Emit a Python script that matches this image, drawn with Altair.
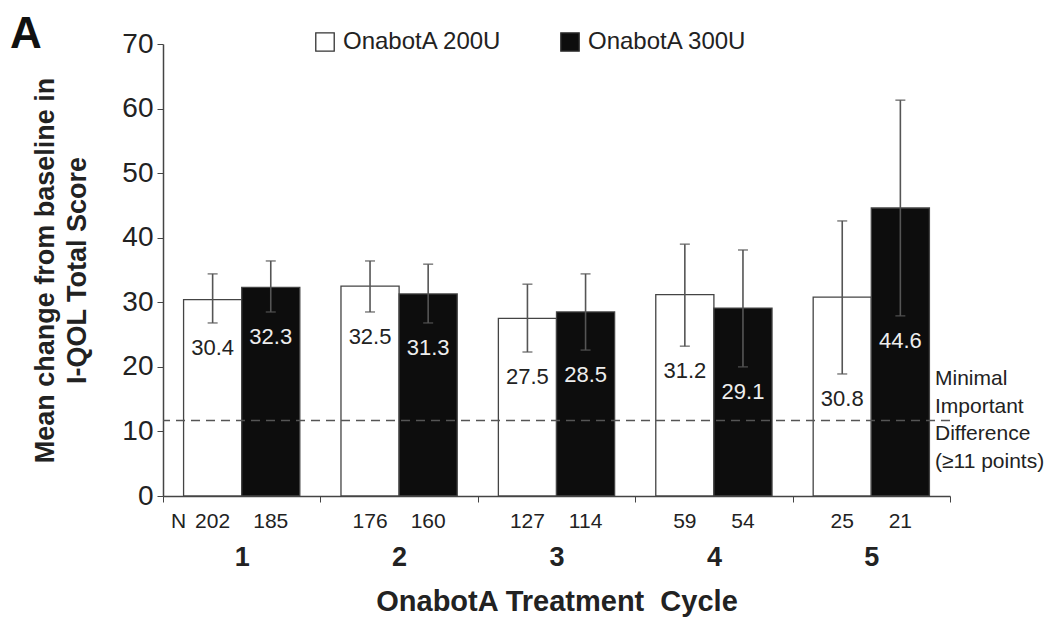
import altair as alt
import pandas as pd

# Mean change from baseline in I-QOL total score by treatment cycle
cycles = ["1", "2", "3", "4", "5"]
doses = ["OnabotA 200U", "OnabotA 300U"]
mean_200 = [30.4, 32.5, 27.5, 31.2, 30.8]
mean_300 = [32.3, 31.3, 28.5, 29.1, 44.6]
low_200 = [26.8, 28.5, 22.3, 23.2, 18.9]
high_200 = [34.4, 36.4, 32.8, 39.0, 42.6]
low_300 = [28.5, 26.8, 22.6, 20.0, 27.9]
high_300 = [36.4, 35.9, 34.4, 38.1, 61.3]
n_200 = [202, 176, 127, 59, 25]
n_300 = [185, 160, 114, 54, 21]
mid_value = 11.7  # minimal important difference reference line

rows = []
for i, c in enumerate(cycles):
    rows.append(dict(cycle=c, dose=doses[0], mean=mean_200[i], lo=low_200[i],
                     hi=high_200[i], n=n_200[i], label=f"{mean_200[i]:.1f}"))
    rows.append(dict(cycle=c, dose=doses[1], mean=mean_300[i], lo=low_300[i],
                     hi=high_300[i], n=n_300[i], label=f"{mean_300[i]:.1f}"))
df = pd.DataFrame(rows)

FONT = "Liberation Sans"
W, H = 787, 452

x_enc = alt.X(
    "cycle:N",
    sort=cycles,
    scale=alt.Scale(paddingInner=0, paddingOuter=0),
    axis=alt.Axis(
        title="OnabotA Treatment \u00a0Cycle",
        labelAngle=0,
        labelFontSize=27,
        labelFontWeight="bold",
        labelColor="#222",
        labelPadding=42,
        tickBand="extent",
        tickSize=6,
        tickColor="#444",
        domainColor="#444",
        domainWidth=1.5,
        titleFontSize=29,
        titleFontWeight="bold",
        titleColor="#222",
        titlePadding=17,
    ),
)
xoff = alt.XOffset("dose:N", sort=doses,
                   scale=alt.Scale(paddingOuter=0.354, paddingInner=0))
y_scale = alt.Scale(domain=[0, 70], nice=False)

base = alt.Chart(df)

bars = base.mark_bar(stroke="#444", strokeWidth=1.3).encode(
    x=x_enc,
    xOffset=xoff,
    y=alt.Y(
        "mean:Q",
        scale=y_scale,
        axis=alt.Axis(
            title=["Mean change from baseline in", "I-QOL Total Score"],
            values=list(range(0, 71, 10)),
            grid=False,
            labelFontSize=28,
            labelColor="#222",
            labelPadding=4,
            tickSize=6,
            tickColor="#444",
            domainColor="#444",
            domainWidth=1.5,
            titleFontSize=27,
            titleFontWeight="bold",
            titleColor="#222",
            titlePadding=30,
            titleLineHeight=32,
        ),
    ),
    fill=alt.Fill(
        "dose:N",
        sort=doses,
        scale=alt.Scale(domain=doses, range=["#ffffff", "#0d0d0d"]),
        legend=alt.Legend(
            title=None,
            orient="none",
            legendX=150,
            legendY=-14,
            direction="horizontal",
            symbolType="square",
            symbolSize=340,
            symbolStrokeColor="#333",
            symbolStrokeWidth=1.3,
            labelFontSize=24,
            labelColor="#222",
            labelOffset=6,
            columnPadding=56,
        ),
    ),
)

err = base.mark_rule(color="#555", strokeWidth=1.6).encode(
    x=alt.X("cycle:N", sort=cycles), xOffset=xoff, y="lo:Q", y2="hi:Q"
)
cap_lo = base.mark_tick(color="#555", thickness=1.6, size=10).encode(
    x=alt.X("cycle:N", sort=cycles), xOffset=xoff, y="lo:Q"
)
cap_hi = base.mark_tick(color="#555", thickness=1.6, size=10).encode(
    x=alt.X("cycle:N", sort=cycles), xOffset=xoff, y="hi:Q"
)

value_text = base.mark_text(fontSize=22, baseline="middle", dy=25).encode(
    x=alt.X("cycle:N", sort=cycles),
    xOffset=xoff,
    y="lo:Q",
    text="label:N",
    color=alt.Color("dose:N", sort=doses,
                    scale=alt.Scale(domain=doses, range=["#222222", "#eeeeee"]),
                    legend=None),
)

n_text = base.mark_text(fontSize=21, baseline="middle", dy=26, color="#222").encode(
    x=alt.X("cycle:N", sort=cycles),
    xOffset=xoff,
    y=alt.datum(0),
    text="n:N",
)

n_head = alt.Chart(pd.DataFrame({"cycle": ["1"], "t": ["N"]})).mark_text(
    fontSize=21, baseline="middle", dy=26, dx=-63, color="#222"
).encode(x=alt.X("cycle:N", sort=cycles), y=alt.datum(0), text="t:N")

mid_line = alt.Chart(pd.DataFrame({"v": [mid_value]})).mark_rule(
    color="#555", strokeWidth=1.5, strokeDash=[9, 6]
).encode(y="v:Q")

mid_text = alt.Chart(pd.DataFrame({"v": [mid_value]})).mark_text(
    align="left",
    baseline="middle",
    fontSize=21,
    lineHeight=27.5,
    dy=-41,
    color="#222",
    text=["Minimal", "Important", "Difference", "(\u226511 points)"],
).encode(x=alt.value(772), y="v:Q")

panel_letter = alt.Chart(pd.DataFrame({"t": ["A"]})).mark_text(
    align="left", baseline="middle", fontSize=44, fontWeight="bold", color="#111"
).encode(x=alt.value(-153), y=alt.value(-9), text="t:N")

chart = (
    alt.layer(bars, mid_line, err, cap_lo, cap_hi, value_text, n_text, n_head,
              mid_text, panel_letter)
    .properties(
        width=W,
        height=H,
        padding={"left": 163, "top": 44, "right": 112, "bottom": 127},
        autosize=alt.AutoSizeParams(type="none"),
        background="white",
        view=alt.ViewBackground(stroke="transparent", strokeWidth=0),
    )
    .configure_view(stroke="transparent", strokeWidth=0)
    .configure_axis(grid=False)
    .configure(font=FONT)
)

chart.save("out.html", embed_options={"renderer": "svg", "actions": False})
